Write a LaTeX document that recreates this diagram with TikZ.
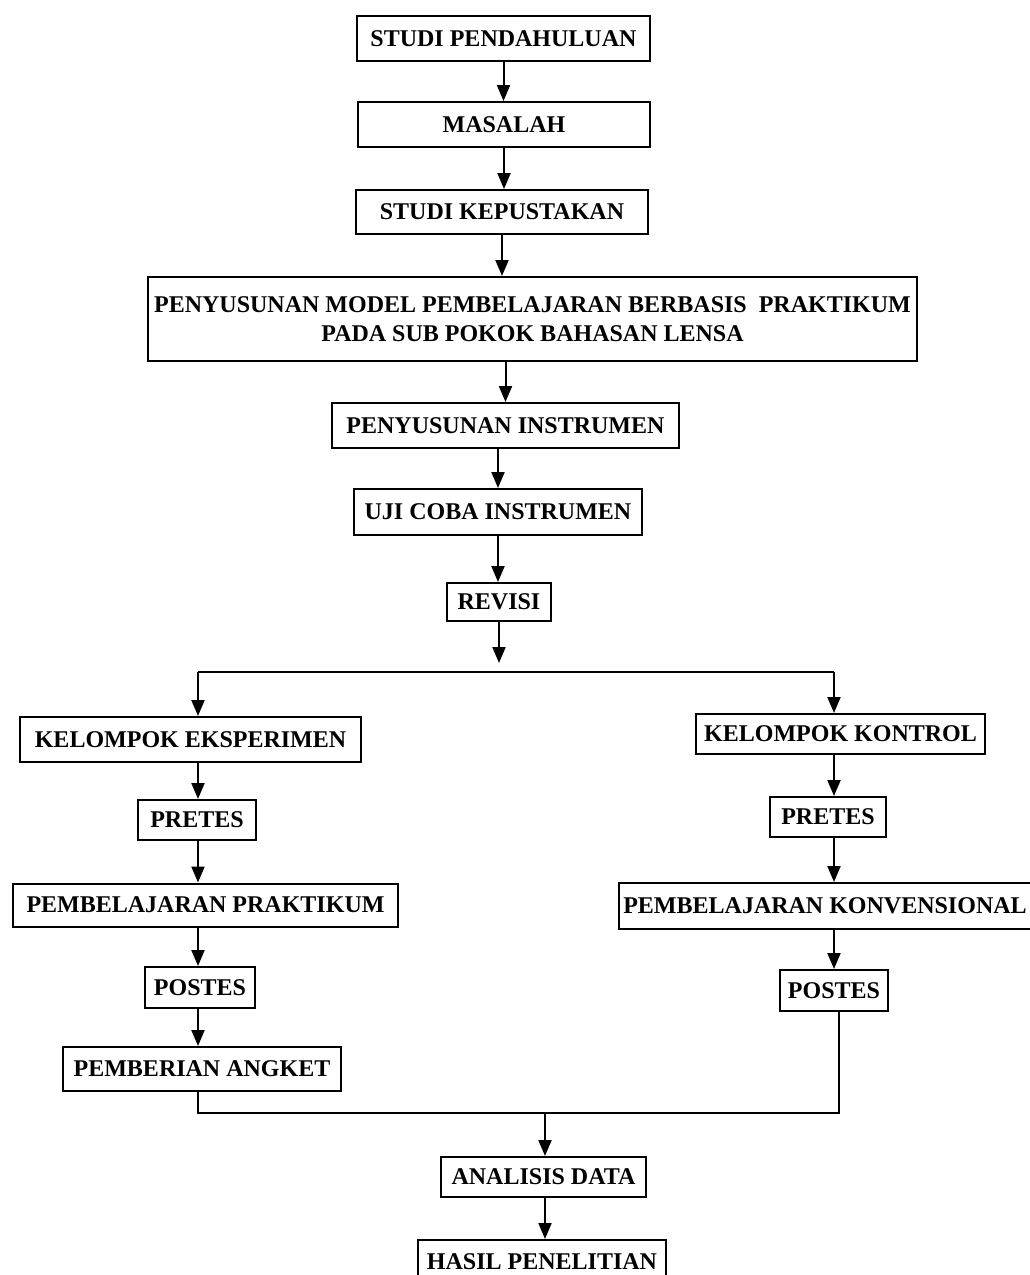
\documentclass[tikz,border=0pt]{standalone}
\usepackage{fontspec}
\setmainfont{Liberation Serif}
\usetikzlibrary{arrows.meta}

\begin{document}
\begin{tikzpicture}[x=0.5pt,y=-0.5pt,
box/.style={draw,line width=1pt,inner sep=0pt,align=center,
  font=\bfseries\fontsize{12}{14.5}\selectfont},
arr/.style={line width=1pt,-{Triangle[length=8pt,width=6.5pt]}}]

\useasboundingbox (0,0) rectangle (1029,1275);

% main column
\node[box,minimum width=146.5pt,minimum height=22.5pt] (pend) at (503.5,38.5) {STUDI PENDAHULUAN};
\node[box,minimum width=146pt,minimum height=22.5pt] (mas) at (504,124.5) {MASALAH};
\node[box,minimum width=146pt,minimum height=22pt] (pust) at (502,212) {STUDI KEPUSTAKAN};
\node[box,minimum width=384.5pt,minimum height=42pt] (model) at (532.5,319)
  {PENYUSUNAN MODEL PEMBELAJARAN BERBASIS~ PRAKTIKUM\\PADA SUB POKOK BAHASAN LENSA};
\node[box,minimum width=173.5pt,minimum height=22.5pt] (instr) at (505.5,425.5) {PENYUSUNAN INSTRUMEN};
\node[box,minimum width=144pt,minimum height=23pt] (uji) at (498,512) {UJI COBA INSTRUMEN};
\node[box,minimum width=52pt,minimum height=19pt] (rev) at (499,602) {REVISI};

% two groups
\node[box,minimum width=170.5pt,minimum height=22.5pt] (eks) at (190.5,739.5) {KELOMPOK EKSPERIMEN};
\node[box,minimum width=144.5pt,minimum height=20pt] (kon) at (840.5,734) {KELOMPOK KONTROL};
\node[box,minimum width=59pt,minimum height=20pt] (preA) at (197,820) {PRETES};
\node[box,minimum width=58pt,minimum height=20pt] (preB) at (828,817) {PRETES};
\node[box,minimum width=192.5pt,minimum height=21.5pt] (prak) at (205.5,905) {PEMBELAJARAN PRAKTIKUM};
\node[box,minimum width=206pt,minimum height=23pt] (konv) at (825,906) {PEMBELAJARAN KONVENSIONAL};
\node[box,minimum width=55pt,minimum height=20.5pt] (posA) at (200,987.5) {POSTES};
\node[box,minimum width=54pt,minimum height=20.5pt] (posB) at (834,990.5) {POSTES};
\node[box,minimum width=139pt,minimum height=22pt] (ang) at (202,1069) {PEMBERIAN ANGKET};

% end
\node[box,minimum width=102.5pt,minimum height=20pt] (anal) at (543.5,1177) {ANALISIS DATA};
\node[box,minimum width=124pt,minimum height=22pt] (hasil) at (542,1262) {HASIL PENELITIAN};

\coordinate (split) at (499,663);
\coordinate (bl) at (198,672);
\coordinate (br) at (834,672);
\coordinate (jl) at (198,1113);
\coordinate (jr) at (839,1113);
\coordinate (join) at (545,1113);

\foreach \a/\b in {pend/mas,mas/pust,pust/model}
{
\draw[arr] (\a.south) -- (\a.south |- \b.north);
}
\draw[arr] (model.south -| instr) -- (instr);
\draw[arr] (instr.south -| uji) -- (uji);
\draw[arr] (uji.south) -- (uji.south |- rev.north);
\draw[arr] (rev.south) -- (rev.south |- split);

\draw[line width=1pt] (bl) -- (br);
\draw[arr] (bl) -- (bl |- eks.north);
\draw[arr] (br) -- (br |- kon.north);

\foreach \a/\b in {eks/preA,preA/prak,prak/posA,posA/ang}
{
\draw[arr] (\a.south -| bl) -- (bl |- \b.north);
}
\foreach \a/\b in {kon/preB,preB/konv,konv/posB}
{
\draw[arr] (\a.south -| br) -- (br |- \b.north);
}

\draw[line width=1pt] (ang.south -| jl) -- (jl) -- (jr) -- (jr |- posB.south);
\draw[arr] (join) -- (join |- anal.north);
\draw[arr] (anal.south -| join) -- (join |- hasil.north);
\end{tikzpicture}
\end{document}
